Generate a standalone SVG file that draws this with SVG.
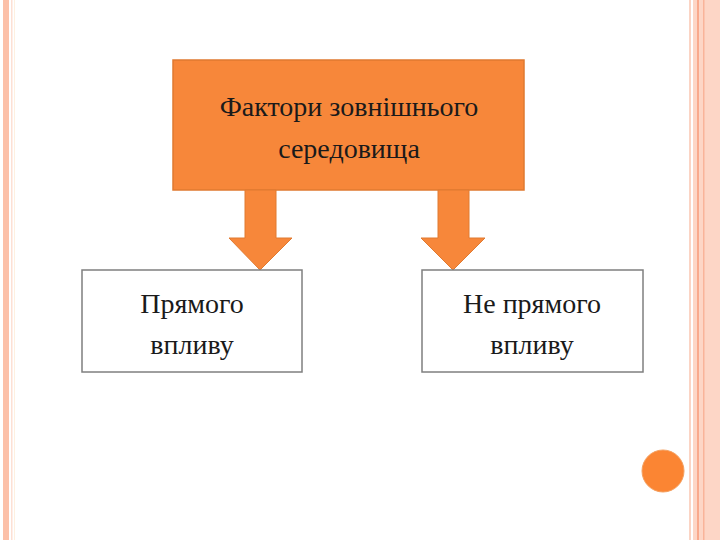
<svg xmlns="http://www.w3.org/2000/svg" width="720" height="540" viewBox="0 0 720 540">
<style>
.t{font-family:"Liberation Serif",serif;font-size:28px;fill:#1a1a1a;text-anchor:middle}
.arr{fill:#f7873a;stroke:#e07a30;stroke-width:1}
.box{fill:#fff;stroke:#7f7f7f;stroke-width:1.5}
</style>
<rect width="720" height="540" fill="#fff"/>
<g id="border">
<rect x="3" y="0" width="6" height="540" fill="#fcc0a8"/>
<rect x="11" y="0" width="1.5" height="540" fill="#fde0d4"/>
<rect x="14" y="0" width="1" height="540" fill="#fef0e0"/>
<rect x="689" y="0" width="2" height="540" fill="#fbd4c4"/>
<rect x="693" y="0" width="27" height="540" fill="#fdd6c6"/>
<rect x="697" y="0" width="2" height="540" fill="#f9a98c"/>
<rect x="703" y="0" width="1.5" height="540" fill="#f9b49a"/>
</g>
<circle cx="663" cy="471" r="21" fill="#fb8533" stroke="#f4a060" stroke-width="1"/>
<g id="main"><rect x="173" y="60" width="351" height="130" fill="#f7873a" stroke="#e07a30" stroke-width="1.5"/>
<text class="t" x="349" y="116">Фактори зовнішнього</text>
<text class="t" x="349" y="158">середовища</text></g>
<g id="connectors">
<polygon class="arr" points="245,190 276,190 276,238 292,238 260,270 229,238 245,238"/>
<polygon class="arr" points="438,190 469,190 469,238 485,238 453,270 421,238 438,238"/>
</g>
<g id="left"><rect class="box" x="82" y="270" width="220" height="102"/>
<text class="t" x="192" y="313">Прямого</text><text class="t" x="192" y="354">впливу</text></g>
<g id="right"><rect class="box" x="422" y="270" width="221" height="102"/>
<text class="t" x="532" y="313">Не прямого</text><text class="t" x="532" y="354">впливу</text></g>
</svg>
